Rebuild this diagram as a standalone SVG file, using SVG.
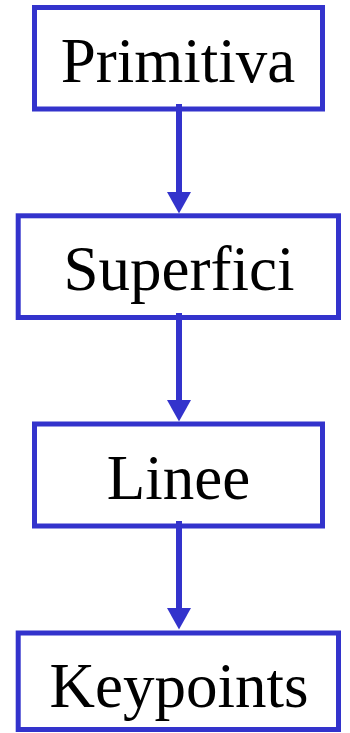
<svg xmlns="http://www.w3.org/2000/svg" width="350" height="733" viewBox="0 0 350 733">
  <style>
    .box { fill: #ffffff; stroke: #3333cc; stroke-width: 5; }
    .lbl { font-family: "Liberation Serif", "Times New Roman", serif; font-size: 63px; fill: #000000; text-anchor: middle; }
    .edge { stroke: #3333cc; stroke-width: 6; fill: none; }
    .head { fill: #3333cc; }
  </style>
  <rect width="350" height="733" fill="#ffffff"/>

  <g id="node-primitiva">
    <rect class="box" x="34.5" y="7.5" width="288" height="101.5"/>
    <text class="lbl" x="178" y="82">Primitiva</text>
  </g>
  <g id="node-superfici">
    <rect class="box" x="18.2" y="215.8" width="320.3" height="101.7"/>
    <text class="lbl" x="179" y="290">Superfici</text>
  </g>
  <g id="node-linee">
    <rect class="box" x="34.5" y="424" width="288" height="102"/>
    <text class="lbl" x="178.5" y="498.5">Linee</text>
  </g>
  <g id="node-keypoints">
    <rect class="box" x="18.2" y="633" width="320.3" height="96.5"/>
    <text class="lbl" x="179" y="706.5">Keypoints</text>
  </g>

  <g id="connectors">
    <line class="edge" x1="179" y1="104" x2="179" y2="194"/>
    <polygon class="head" points="167,192 191,192 179,213.5"/>
    <line class="edge" x1="179" y1="313" x2="179" y2="402"/>
    <polygon class="head" points="167,400 191,400 179,421.5"/>
    <line class="edge" x1="179" y1="521" x2="179" y2="610"/>
    <polygon class="head" points="167,608 191,608 179,629.5"/>
  </g>
</svg>
